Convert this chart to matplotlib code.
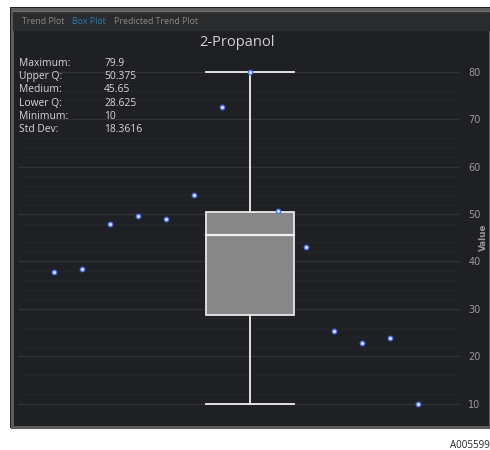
import matplotlib
matplotlib.use("Agg")
import matplotlib.pyplot as plt
from matplotlib.patches import Rectangle
import numpy as np

title = "2-Propanol"
tabs = ["Trend Plot", "Box Plot", "Predicted Trend Plot"]
stat_names = ["Maximum:", "Upper Q:", "Medium:", "Lower Q:", "Minimum:", "Std Dev:"]
stat_values = ["79.9", "50.375", "45.65", "28.625", "10", "18.3616"]
values = [37.8, 38.5, 47.8, 49.6, 49.0, 54.0, 72.6, 79.9, 50.6, 43.1, 25.3, 22.8, 23.9, 10.0]
box_max, box_q3, box_med, box_q1, box_min = 79.9, 50.375, 45.65, 28.625, 10.0
yticks = [10, 20, 30, 40, 50, 60, 70, 80]
ylabel = "Value"
figure_id = "A005599"

W, H = 490, 450
fig = plt.figure(figsize=(W / 100, H / 100), dpi=100)
fig.patch.set_facecolor("white")

def fx(px):
    return px / W

def fy(py):
    return 1 - py / H

# Outer panel
fig.patches.append(Rectangle((fx(10), fy(428)), fx(480), (421) / H, transform=fig.transFigure,
                             facecolor="#1f2023", edgecolor="none", zorder=-3))
# Border
fig.patches.append(Rectangle((fx(11.5), fy(426.5)), fx(478.5), (418) / H, transform=fig.transFigure,
                             facecolor="none", edgecolor="#5c5c5c", linewidth=2.2, zorder=-2))
# Tab bar
fig.patches.append(Rectangle((fx(13), fy(31)), fx(477), 20 / H, transform=fig.transFigure,
                             facecolor="#2a2b2d", edgecolor="none", zorder=-2))
fig.lines.append(plt.Line2D([fx(13), fx(490)], [fy(11), fy(11)], transform=fig.transFigure,
                            color="#6a6a6a", linewidth=1.0, zorder=-1))

tab_colors = ["#8a8a8a", "#2b7fb8", "#8a8a8a"]
tab_x = [22, 72, 114]
for t, c, x in zip(tabs, tab_colors, tab_x):
    fig.text(fx(x), fy(22), t, color=c, fontsize=6.3, va="center", ha="left",
             family="Open Sans", zorder=10)

fig.text(fx(237), fy(42), title, color="#d0d0d0", fontsize=10.5, ha="center", va="center",
         family="Open Sans", zorder=10)

# Axes
ax = fig.add_axes([fx(18), fy(413), fx(460 - 18), (413 - 62) / H])
ax.set_zorder(1)
ax.set_facecolor("#1f2023")
xs = np.arange(len(values))
ax.set_xlim(-1.29, 14.5)
ax.set_ylim(8.0, 82.1)

ax.set_yticks(yticks)
ax.set_yticks(np.arange(8, 82.1, 2), minor=True)
ax.grid(True, which="major", axis="y", color="#303236", linewidth=1.0)
ax.grid(True, which="minor", axis="y", color="#242528", linewidth=0.8)
ax.set_axisbelow(True)
ax.set_xticks([])
ax.yaxis.tick_right()
ax.yaxis.set_label_position("right")
ax.tick_params(axis="y", which="both", length=0, colors="#9a9a9a", labelsize=7, pad=6)
for s in ax.spines.values():
    s.set_visible(False)
ax.set_ylabel(ylabel, color="#9a9a9a", fontsize=6.3, fontweight="bold", va="center", ha="center")
ax.yaxis.set_label_coords((483 - 18) / (460 - 18), 0.5)

# Box plot
pos = 7
half = 1.57
ax.add_patch(Rectangle((pos - half, box_q1), 2 * half, box_q3 - box_q1,
                       facecolor="#878787", edgecolor="#e8e8e8", linewidth=1.3, zorder=2))
ax.plot([pos - half, pos + half], [box_med, box_med], color="#f0f0f0", linewidth=1.6, zorder=3)
ax.plot([pos, pos], [box_q3, box_max], color="#f0f0f0", linewidth=1.3, zorder=2)
ax.plot([pos, pos], [box_min, box_q1], color="#f0f0f0", linewidth=1.3, zorder=2)
ax.plot([pos - half, pos + half], [box_max, box_max], color="#f0f0f0", linewidth=1.3, zorder=2)
ax.plot([pos - half, pos + half], [box_min, box_min], color="#f0f0f0", linewidth=1.3, zorder=2)

ax.scatter(xs, values, s=10, facecolor="#dfe6ff", edgecolor="#4a6cff", linewidth=1.0, zorder=4)

# Stats text
for i, (n, v) in enumerate(zip(stat_names, stat_values)):
    y = 63 + i * 13.4
    fig.text(fx(19), fy(y), n, color="#d8d8d8", fontsize=7.4, va="center", ha="left",
             family="Open Sans", zorder=10)
    fig.text(fx(104), fy(y), v, color="#d8d8d8", fontsize=7.4, va="center", ha="left",
             family="Open Sans", zorder=10)

fig.text(fx(490), fy(445), figure_id, color="#222222", fontsize=7, ha="right", va="center",
         family="Open Sans")

fig.savefig("out.png", dpi=100)
